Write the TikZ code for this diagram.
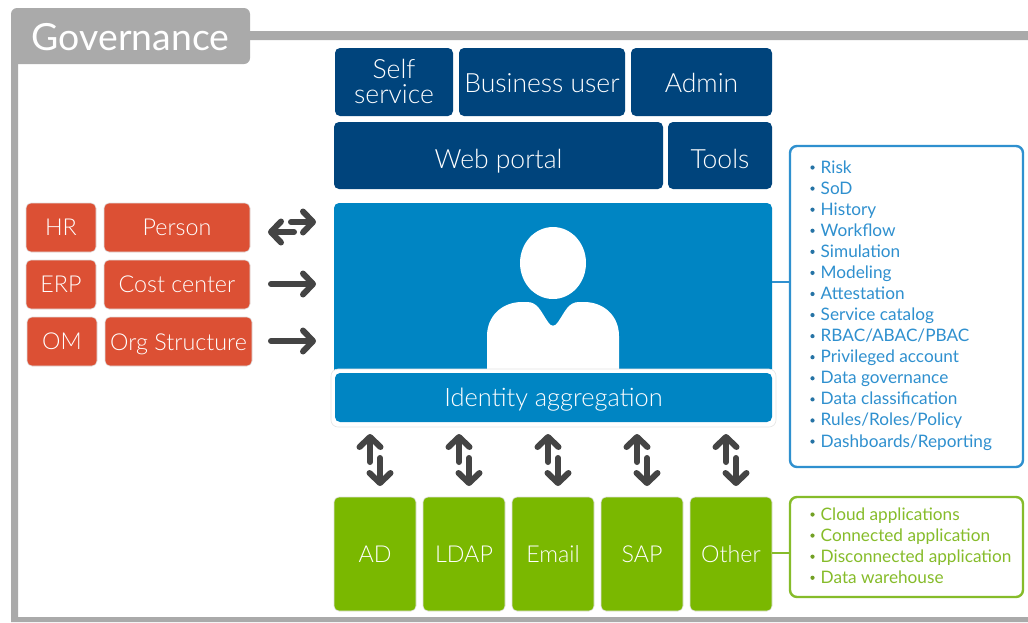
\documentclass[tikz,border=0pt]{standalone}
\usepackage{fontspec}
\setmainfont{Lato}
\newfontfamily\lightfont{Lato Light}
\usetikzlibrary{arrows.meta}
\definecolor{navy}{HTML}{00447C}
\definecolor{dellblue}{HTML}{0085C3}
\definecolor{dellgreen}{HTML}{7AB800}
\definecolor{dellorange}{HTML}{DC5034}
\definecolor{framegray}{HTML}{AAAAAA}
\definecolor{arrowgray}{HTML}{444444}
\definecolor{listblue}{HTML}{2F90CF}
\definecolor{listgreen}{HTML}{86BC2A}
\tikzset{
  card/.style={inner sep=0pt,rounded corners=5pt,text=white,align=center,font=\lightfont\fontsize{26.5}{25}\selectfont},
  navybox/.style={card,fill=navy},
  bluebox/.style={card,fill=dellblue},
  greenbox/.style={card,fill=dellgreen,font=\lightfont\fontsize{23.3}{24}\selectfont,draw=black!12,line width=.6pt},
  orangebox/.style={card,fill=dellorange,font=\lightfont\fontsize{23.3}{24}\selectfont,draw=black!12,line width=.6pt},
  listframe/.style={inner sep=0pt,rounded corners=7pt,line width=2.4pt,fill=white},
  flow/.style={draw=arrowgray,line width=6pt,line cap=round,-{Straight Barb[length=10pt,width=21pt,line width=6pt,round]}},
  linkline/.style={line width=2.4pt},
  listtext/.style={inner sep=0pt,anchor=base west,font=\fontsize{17.2}{18}\selectfont}
}
\begin{document}
\begin{tikzpicture}[x=1pt,y=-1pt]
\useasboundingbox (0,0) rectangle (1028,622);
\fill[white] (0,0) rectangle (1028,622);
% frame
\fill[framegray] (1028,31) -- (14,31) -- (11,34) -- (11,622) -- (1028,622) -- (1028,617) -- (18,617) -- (18,40) -- (1028,40) -- cycle;
\node[inner sep=0pt,rounded corners=6pt,fill=framegray,text=white,font=\fontsize{37.4}{36}\selectfont,minimum width=239pt,minimum height=56pt,text height=28pt,text depth=0pt] (gov) at (130.5,36) {Governance};
% top
\node[navybox,minimum width=118pt,minimum height=68pt,text depth=2pt] (self) at (394,82) {Self\\service};
\node[navybox,minimum width=166pt,minimum height=68pt,text height=21pt,text depth=0pt] (biz) at (542,82) {Business user};
\node[navybox,minimum width=141pt,minimum height=68pt,text height=21pt,text depth=0pt] (admin) at (701.5,82) {Admin};
\node[navybox,minimum width=329pt,minimum height=67pt,text height=26pt,text depth=0pt] (web) at (498.5,155.5) {Web portal};
\node[navybox,minimum width=104pt,minimum height=67pt,text height=26pt,text depth=0pt] (tools) at (720,155.5) {Tools};
% main blue
\node[bluebox,minimum width=438pt,minimum height=172pt] (main) at (553,289) {};
\fill[white] (553,263) ellipse[x radius=33pt,y radius=36pt];
\fill[white] (487,373) -- (487,336) .. controls (487,316) and (502,302) .. (522,302) -- (527,302)
  .. controls (538,302) and (541,312) .. (548,322) .. controls (551,327) and (555,327) .. (558,322)
  .. controls (565,312) and (568,302) .. (579,302) -- (584,302)
  .. controls (604,302) and (619,316) .. (619,336) -- (619,373) -- cycle;
\node[inner sep=0pt,rounded corners=7pt,fill=white,draw=black!10,line width=.6pt,minimum width=445pt,minimum height=58pt] (aggframe) at (553.5,398) {};
\node[bluebox,font=\lightfont\fontsize{25.4}{25}\selectfont,minimum width=437pt,minimum height=49pt,text height=18.5pt,text depth=0pt] (agg) at (553.5,397.5) {Identity aggregation};
% orange
\node[orangebox,minimum width=70pt,minimum height=49pt] (hr) at (61,227.5) {HR};
\node[orangebox,minimum width=146pt,minimum height=49pt] (person) at (177,227.5) {Person};
\node[orangebox,minimum width=70pt,minimum height=49pt] (erp) at (61,284.5) {ERP};
\node[orangebox,minimum width=146pt,minimum height=49pt] (cost) at (177,284.5) {Cost center};
\node[orangebox,minimum width=70pt,minimum height=49pt] (om) at (62,341.5) {OM};
\node[orangebox,minimum width=147pt,minimum height=49pt,text height=17pt,text depth=0pt] (org) at (178.5,341.5) {Org Structure};
% green
\node[greenbox,minimum width=82pt,minimum height=114pt] (ad) at (375,554) {AD};
\node[greenbox,minimum width=82pt,minimum height=114pt] (ldap) at (464,554) {LDAP};
\node[greenbox,minimum width=82pt,minimum height=114pt] (email) at (553,554) {Email};
\node[greenbox,minimum width=82pt,minimum height=114pt] (sap) at (642,554) {SAP};
\node[greenbox,minimum width=82pt,minimum height=114pt] (other) at (731,554) {Other};
% lists
\node[listframe,draw=listblue,minimum width=233pt,minimum height=321pt] (blist) at (906.5,306.5) {};
\node[listframe,draw=listgreen,minimum width=233pt,minimum height=100pt] (glist) at (906.5,547) {};
\coordinate (blink) at (772,282);
\coordinate (glink) at (772,553);
\draw[linkline,draw=listblue] (blink) -- (blink -| blist.west);
\draw[linkline,draw=listgreen] (glink) -- (glink -| glist.west);
\foreach \t [count=\i from 0] in {Risk,SoD,History,Workflow,Simulation,Modeling,Attestation,Service catalog,RBAC/ABAC/PBAC,Privileged account,Data governance,Data classification,Rules/Roles/Policy,Dashboards/Reporting}{
  \pgfmathsetmacro{\yy}{173+21.08*\i}
  \fill[listblue!80!black] (812.5,\yy-5.5) circle[radius=2.1pt];
  \node[listtext,text=listblue] (b\i) at (820.5,\yy) {\t};
}
\foreach \t [count=\i from 0] in {Cloud applications,Connected application,Disconnected application,Data warehouse}{
  \pgfmathsetmacro{\yy}{520+21.08*\i}
  \fill[listgreen!85!black] (812.5,\yy-5.5) circle[radius=2.1pt];
  \node[listtext,text=listgreen] (g\i) at (820.5,\yy) {\t};
}
% horizontal arrows
\coordinate (a1s) at (291,222); \coordinate (a1e) at (316,222);
\coordinate (a2s) at (294,232); \coordinate (a2e) at (268,232);
\coordinate (a3s) at (271,284); \coordinate (a3e) at (316,284);
\coordinate (a4s) at (271,341); \coordinate (a4e) at (316,341);
\draw[flow] (a1s) -- (a1e);
\draw[flow] (a2s) -- (a2e);
\draw[flow] (a3s) -- (a3e);
\draw[flow] (a4s) -- (a4e);
% vertical arrows
\foreach \n/\x in {1/370,2/459,3/548,4/637,5/726}{
  \coordinate (u\n s) at (\x,462); \coordinate (u\n e) at (\x,434);
  \coordinate (d\n s) at (\x+10,458); \coordinate (d\n e) at (\x+10,486);
  \draw[flow] (u\n s) -- (u\n e);
  \draw[flow] (d\n s) -- (d\n e);
}
\end{tikzpicture}
\end{document}
